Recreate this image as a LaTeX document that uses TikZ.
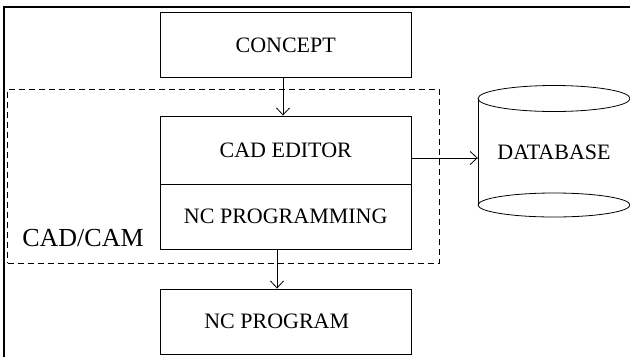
\documentclass[tikz,border=0pt]{standalone}
\usepackage{fontspec}
\setmainfont{Liberation Serif}
\usetikzlibrary{arrows.meta}
\begin{document}
\begin{tikzpicture}[x=1pt,y=-1pt,
  box/.style={draw, line width=0.9pt, inner sep=0pt, minimum width=250.5pt, font=\fontsize{22}{24}\selectfont},
  arr/.style={line width=0.8pt, -{Straight Barb[length=7pt,width=13pt,line width=0.8pt]}},
  frame/.style={line width=1.4pt}]
\useasboundingbox (0,0) rectangle (630,357);
% outer frame (left and top lines)
\coordinate (ftl) at (4,7);
\coordinate (ftr) at (630,7);
\coordinate (fbl) at (4,357);
\draw[frame] (fbl) -- (ftl) -- (ftr);
% dashed CAD/CAM group
\node[draw, dashed, line width=0.9pt, dash pattern=on 6pt off 4pt, inner sep=0pt,
      minimum width=431.5pt, minimum height=174pt] (grp) at (223.25,176) {};
\node[font=\fontsize{26}{28}\selectfont, inner sep=0pt] (cadcam) at (83,238) {CAD/CAM};
% boxes
\node[box, minimum height=64.3pt] (concept) at (285.75,44.85) {CONCEPT};
\node[box, minimum height=68pt] (editor) at (285.75,150) {CAD EDITOR};
\node[box, minimum height=65pt] (ncprog) at (285.75,216.5) {NC PROGRAMMING};
\node[box, minimum height=65pt] (program) at (285.75,321.5) {NC PROGRAM\hspace*{18pt}};
% database cylinder
\node[inner sep=0pt, minimum width=152pt, minimum height=107pt,
      font=\fontsize{22}{24}\selectfont] (db) at (554,152) {DATABASE};
\coordinate (dbtop) at (554,98.5);
\coordinate (dbbot) at (554,205);
\draw[line width=0.8pt] (dbtop) ellipse [x radius=76pt, y radius=13pt];
\draw[line width=0.8pt] (dbbot) ellipse [x radius=76pt, y radius=12pt];
\draw[line width=0.9pt] ([xshift=-76pt]dbtop) -- ([xshift=-76pt]dbbot);
\draw[line width=0.9pt] ([xshift=76pt]dbtop) -- ([xshift=76pt]dbbot);
% connectors
\coordinate (xa) at (283,0);
\coordinate (xb) at (277,0);
\coordinate (ya) at (0,158);
\draw[arr] (concept.south -| xa) -- (editor.north -| xa);
\draw[arr] (ncprog.south -| xb) -- (program.north -| xb);
\draw[arr] (editor.east |- ya) -- (db.west |- ya);
\end{tikzpicture}
\end{document}
